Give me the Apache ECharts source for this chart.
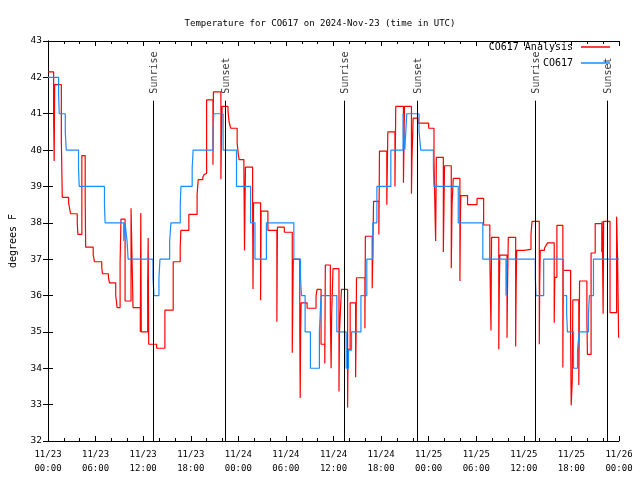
<!DOCTYPE html>
<html><head><meta charset="utf-8">
<script src="https://cdn.jsdelivr.net/npm/echarts@6/dist/echarts.min.js"></script>
<style>html,body{margin:0;padding:0;background:#fff}#c{width:640px;height:480px}</style>
</head><body><div id="c"></div>
<script>
// Hours since 2024-11-23 00:00 UTC
const analysisHours = [0,0.71,0.78,0.84,1.68,1.8,2.6,2.72,2.85,3.69,3.77,4.27,4.69,4.75,5.7,5.86,6.78,6.87,7.62,7.75,8.54,8.71,9.09,9.2,9.72,10.47,10.72,11.64,11.7,11.76,12.57,12.63,12.7,13.7,14.74,15.79,16.67,16.75,17.76,18.8,18.94,19.52,19.69,19.86,20.0,20.8,20.86,21.8,21.86,21.95,22.7,22.83,23.04,23.85,24.0,24.1,24.7,24.78,24.84,24.9,25.8,25.85,25.92,26.81,26.87,27.73,28.86,28.93,29.8,30.8,30.86,30.93,31.75,31.8,31.86,31.92,32.67,33.8,33.93,34.43,34.9,34.97,35.6,35.7,35.77,35.94,36.69,36.75,37.0,37.78,37.84,38.1,38.79,38.85,38.9,39.96,40.02,40.88,40.95,41.05,41.72,41.8,42.72,42.85,43.75,43.85,44.82,44.95,45.83,45.9,46.05,46.66,48.0,48.67,48.8,48.88,48.97,49.85,49.93,50.0,50.85,50.95,51.1,51.94,52.0,52.05,52.9,54.1,54.93,55.71,55.8,55.86,55.93,56.84,56.9,56.97,57.88,57.93,58.04,58.97,59.03,59.1,60.0,60.9,61.03,61.95,62.0,62.07,62.6,62.8,63.0,63.83,63.9,64.17,64.92,64.98,65.9,65.97,66.1,66.18,66.93,66.98,67.03,67.95,68.02,68.48,69.0,69.83,69.88,70.0,70.06,70.87,71.7,71.82,71.88,71.95,72.0];
const analysisTemps = [42.15,40.9,39.7,41.8,40.3,38.7,38.55,38.4,38.25,38.0,37.68,39.85,38.6,37.33,37.12,36.93,36.76,36.6,36.5,36.35,36.0,35.67,36.9,38.1,35.85,38.4,35.67,35.0,38.27,35.0,36.3,37.58,34.66,34.55,35.6,36.93,37.3,37.79,38.23,38.78,39.19,39.25,39.33,39.36,41.38,39.6,41.6,39.2,40.2,41.2,41.07,40.78,40.6,40.2,39.87,39.74,39.53,37.24,38.5,39.53,38.55,36.18,38.55,35.87,38.32,37.79,35.28,37.88,37.74,34.43,35.7,37.0,35.07,33.18,35.07,35.8,35.65,36.0,36.17,34.66,34.13,36.84,35.5,34.0,35.5,36.74,33.36,35.0,36.17,32.92,34.52,35.8,33.75,35.0,36.49,35.1,37.63,36.2,37.1,38.59,37.68,39.97,38.5,40.5,39.0,41.2,39.1,41.2,38.8,39.8,40.88,40.74,40.6,39.78,38.27,37.5,39.8,37.2,38.4,39.57,36.75,38.5,39.22,36.4,38.1,38.75,38.5,38.67,37.94,37.17,35.76,35.04,37.6,34.52,36.08,37.11,34.84,36.0,37.6,34.6,36.2,37.24,37.27,37.68,38.04,34.66,36.3,37.24,37.3,37.38,37.45,35.25,36.5,37.93,34.02,36.69,34.84,32.98,33.6,35.88,33.54,34.9,36.4,35.4,34.38,37.17,37.98,37.2,38.04,35.5,38.04,35.53,38.17,37.0,36.1,34.84,34.84];
const observedHours = [0,1.34,1.42,2.18,2.3,3.85,3.94,7.12,7.2,9.55,9.72,9.97,10.1,13.24,13.36,13.99,14.12,15.34,15.5,16.68,16.76,18.18,18.3,20.82,20.9,22.08,23.77,25.55,26.1,27.54,31.0,31.84,31.96,32.42,33.09,34.22,34.43,36.42,37.6,37.9,38.28,39.46,40.2,40.96,41.47,43.23,44.78,44.99,45.24,46.79,47.0,48.6,48.67,51.73,54.83,57.75,57.9,61.45,61.53,62.5,65.0,65.4,65.5,66.27,66.77,66.98,68.15,68.27,68.78,72];
const observedTemps = [42,41.5,41,40.5,40,39.5,39,38.5,38,37.5,38,37.5,37,36.5,36,36.5,37,37.5,38,38.5,39,39.5,40,40.5,41,40,39,38,37,38,37,36.5,36,35,34,35,36,35,34,34.5,35,36,37,38,39,40,41,40,41,40.5,40,39.5,39,38,37,36,37,36.5,36,37,36,35.5,35,34,34.5,35,35.5,36,37,37];
const sunEventHours = [13.25,22.41,37.37,46.56,61.48,70.54];
const sunEventNames = ['Sunrise','Sunset','Sunrise','Sunset','Sunrise','Sunset'];
const xTickLabels = ['11/23\n00:00','11/23\n06:00','11/23\n12:00','11/23\n18:00','11/24\n00:00','11/24\n06:00','11/24\n12:00','11/24\n18:00','11/25\n00:00','11/25\n06:00','11/25\n12:00','11/25\n18:00','11/26\n00:00'];
const seriesNames = ['CO617 Analysis','CO617'];

const FONT = 'DejaVu Sans Mono';
const chart = echarts.init(document.getElementById('c'), null, {renderer:'canvas'});
const sunLineTop = 41.36;
const axCommon = {axisLine:{show:true,lineStyle:{color:'#000',width:1}}, splitLine:{show:false}};
chart.setOption({
  animation:false,
  backgroundColor:'#fff',
  title:{text:'Temperature for CO617 on 2024-Nov-23 (time in UTC)', left:'center', top:14,
    textStyle:{fontFamily:FONT,fontSize:9,fontWeight:'normal',color:'#000'}},
  legend:{data:seriesNames, orient:'vertical', align:'right', right:30, top:41, padding:0, itemGap:4,
    icon:'rect', itemWidth:29, itemHeight:1.5,
    textStyle:{fontFamily:FONT,fontSize:10,color:'#000',lineHeight:12,padding:[0,3,0,0]}},
  grid:{left:46,right:21,top:41,bottom:39,containLabel:false},
  xAxis:[
    Object.assign({type:'value',min:0,max:72,interval:6,position:'bottom',
      axisTick:{show:true,inside:true,length:5,lineStyle:{color:'#000'}},
      minorTick:{show:true,splitNumber:3,length:3,lineStyle:{color:'#000'}},
      axisLabel:{margin:7,fontFamily:FONT,fontSize:9,color:'#000',lineHeight:14,
        formatter:v=>xTickLabels[Math.round(v/6)]}}, axCommon),
    Object.assign({type:'value',min:0,max:72,interval:6,position:'top',
      axisTick:{show:true,inside:true,length:5,lineStyle:{color:'#000'}},
      minorTick:{show:true,splitNumber:3,length:3,lineStyle:{color:'#000'}},
      axisLabel:{show:false}}, axCommon)
  ],
  yAxis:[
    Object.assign({type:'value',min:32,max:43,interval:1,position:'left',
      name:'degrees F',nameLocation:'middle',nameGap:30,
      nameTextStyle:{fontFamily:FONT,fontSize:10,color:'#000'},
      axisTick:{show:true,inside:true,length:5,lineStyle:{color:'#000'}},
      axisLabel:{margin:6,fontFamily:FONT,fontSize:9.5,color:'#000'}}, axCommon),
    Object.assign({type:'value',min:32,max:43,interval:1,position:'right',
      axisTick:{show:true,inside:true,length:5,lineStyle:{color:'#000'}},
      axisLabel:{show:false}}, axCommon)
  ],
  series:[
    {type:'scatter', name:'sun', symbolSize:0, z:1, silent:true,
     data:sunEventHours.map((h,i)=>({value:[h,sunLineTop],name:sunEventNames[i]})),
     label:{show:true,formatter:p=>p.name,position:[1,-7],align:'left',verticalAlign:'middle',rotate:90,
       fontFamily:FONT,fontSize:10,color:'#000'},
     markLine:{silent:true,symbol:['none','none'],animation:false,
       lineStyle:{color:'#000',width:1,type:'solid'},label:{show:false},
       data:sunEventHours.map(h=>[{coord:[h,32]},{coord:[h,sunLineTop]}])}},
    {type:'line', name:seriesNames[0], step:'end', showSymbol:false, symbol:'none', z:3,
     color:'#ff0000', lineStyle:{color:'#ff0000',width:1.2},
     data:analysisHours.map((h,i)=>[h,analysisTemps[i]])},
    {type:'line', name:seriesNames[1], step:'end', showSymbol:false, symbol:'none', z:4,
     color:'#1a8cff', lineStyle:{color:'#1a8cff',width:1.2},
     data:observedHours.map((h,i)=>[h,observedTemps[i]])}
  ]
});
</script></body></html>
